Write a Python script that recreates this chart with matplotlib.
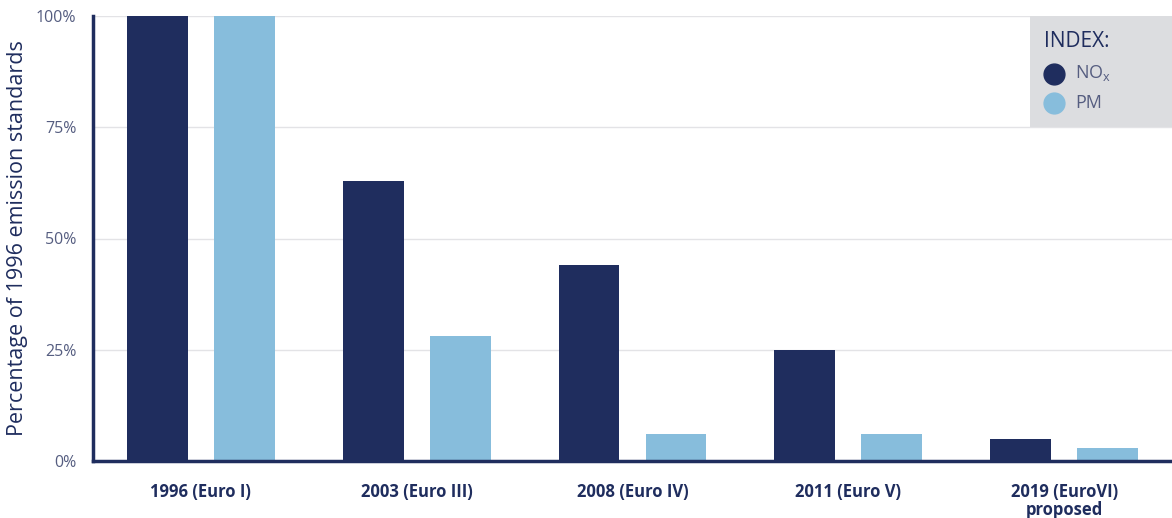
import numpy as np
import matplotlib.pyplot as plt
from matplotlib.patches import Rectangle

categories = ["1996 (Euro I)", "2003 (Euro III)", "2008 (Euro IV)", "2011 (Euro V)", "2019 (EuroVI)\nproposed"]
nox = [100, 63, 44, 25, 5]
pm = [100, 28, 6, 6, 3]
yticks = [0, 25, 50, 75, 100]

navy = "#1f2d5e"
light = "#87bddc"
txt = "#555d80"

plt.rcParams['font.family'] = ['Open Sans', 'DejaVu Sans']

fig = plt.figure(figsize=(11.72, 5.18), dpi=100)
ax = fig.add_axes([93 / 1172, 1 - 461 / 518, 1079 / 1172, 445 / 518])

x = np.arange(len(categories))
w = 0.282
off = 0.2014
ax.bar(x - off, nox, width=w, color=navy, zorder=3)
ax.bar(x + off, pm, width=w, color=light, zorder=3)

ax.set_xlim(-0.5, 4.5)
ax.set_ylim(0, 100)
ax.set_yticks(yticks)
ax.set_yticklabels([f"{v}%" for v in yticks], color=txt, fontsize=11.5)
ax.yaxis.grid(True, color="#e3e3e6", linewidth=1, zorder=0)
ax.tick_params(axis='y', length=0, pad=12)
ax.set_xticks(x)
ax.set_xticklabels(categories, fontsize=12, fontweight='bold', color=navy, linespacing=1.0)
ax.tick_params(axis='x', length=0, pad=16)

for s in ['top', 'right']:
    ax.spines[s].set_visible(False)
for s in ['left', 'bottom']:
    ax.spines[s].set_color(navy)
    ax.spines[s].set_linewidth(2.5)
    ax.spines[s].set_zorder(4)

ax.set_ylabel("Percentage of 1996 emission standards", fontsize=15.5, color=navy)
ax.yaxis.set_label_coords(-0.06, 0.5)

# legend box
ax.add_patch(Rectangle((0.868, 0.751), 0.132, 0.249, transform=ax.transAxes,
                       facecolor="#dcdde0", edgecolor='none', zorder=5, clip_on=False))
ax.text(0.881, 0.9416, "INDEX:", transform=ax.transAxes, fontsize=15, color=navy,
        va='center', ha='left', zorder=6)
ax.plot([0.891], [0.870], 'o', transform=ax.transAxes, markersize=15, color=navy, zorder=6, clip_on=False)
ax.plot([0.891], [0.8045], 'o', transform=ax.transAxes, markersize=15, color=light, zorder=6, clip_on=False)
ax.text(0.910, 0.872, "NO$_{\\mathregular{x}}$", transform=ax.transAxes, fontsize=13, color=txt,
        va='center', ha='left', zorder=6)
ax.text(0.910, 0.8045, "PM", transform=ax.transAxes, fontsize=13, color=txt,
        va='center', ha='left', zorder=6)

plt.savefig("out.png", dpi=100)
